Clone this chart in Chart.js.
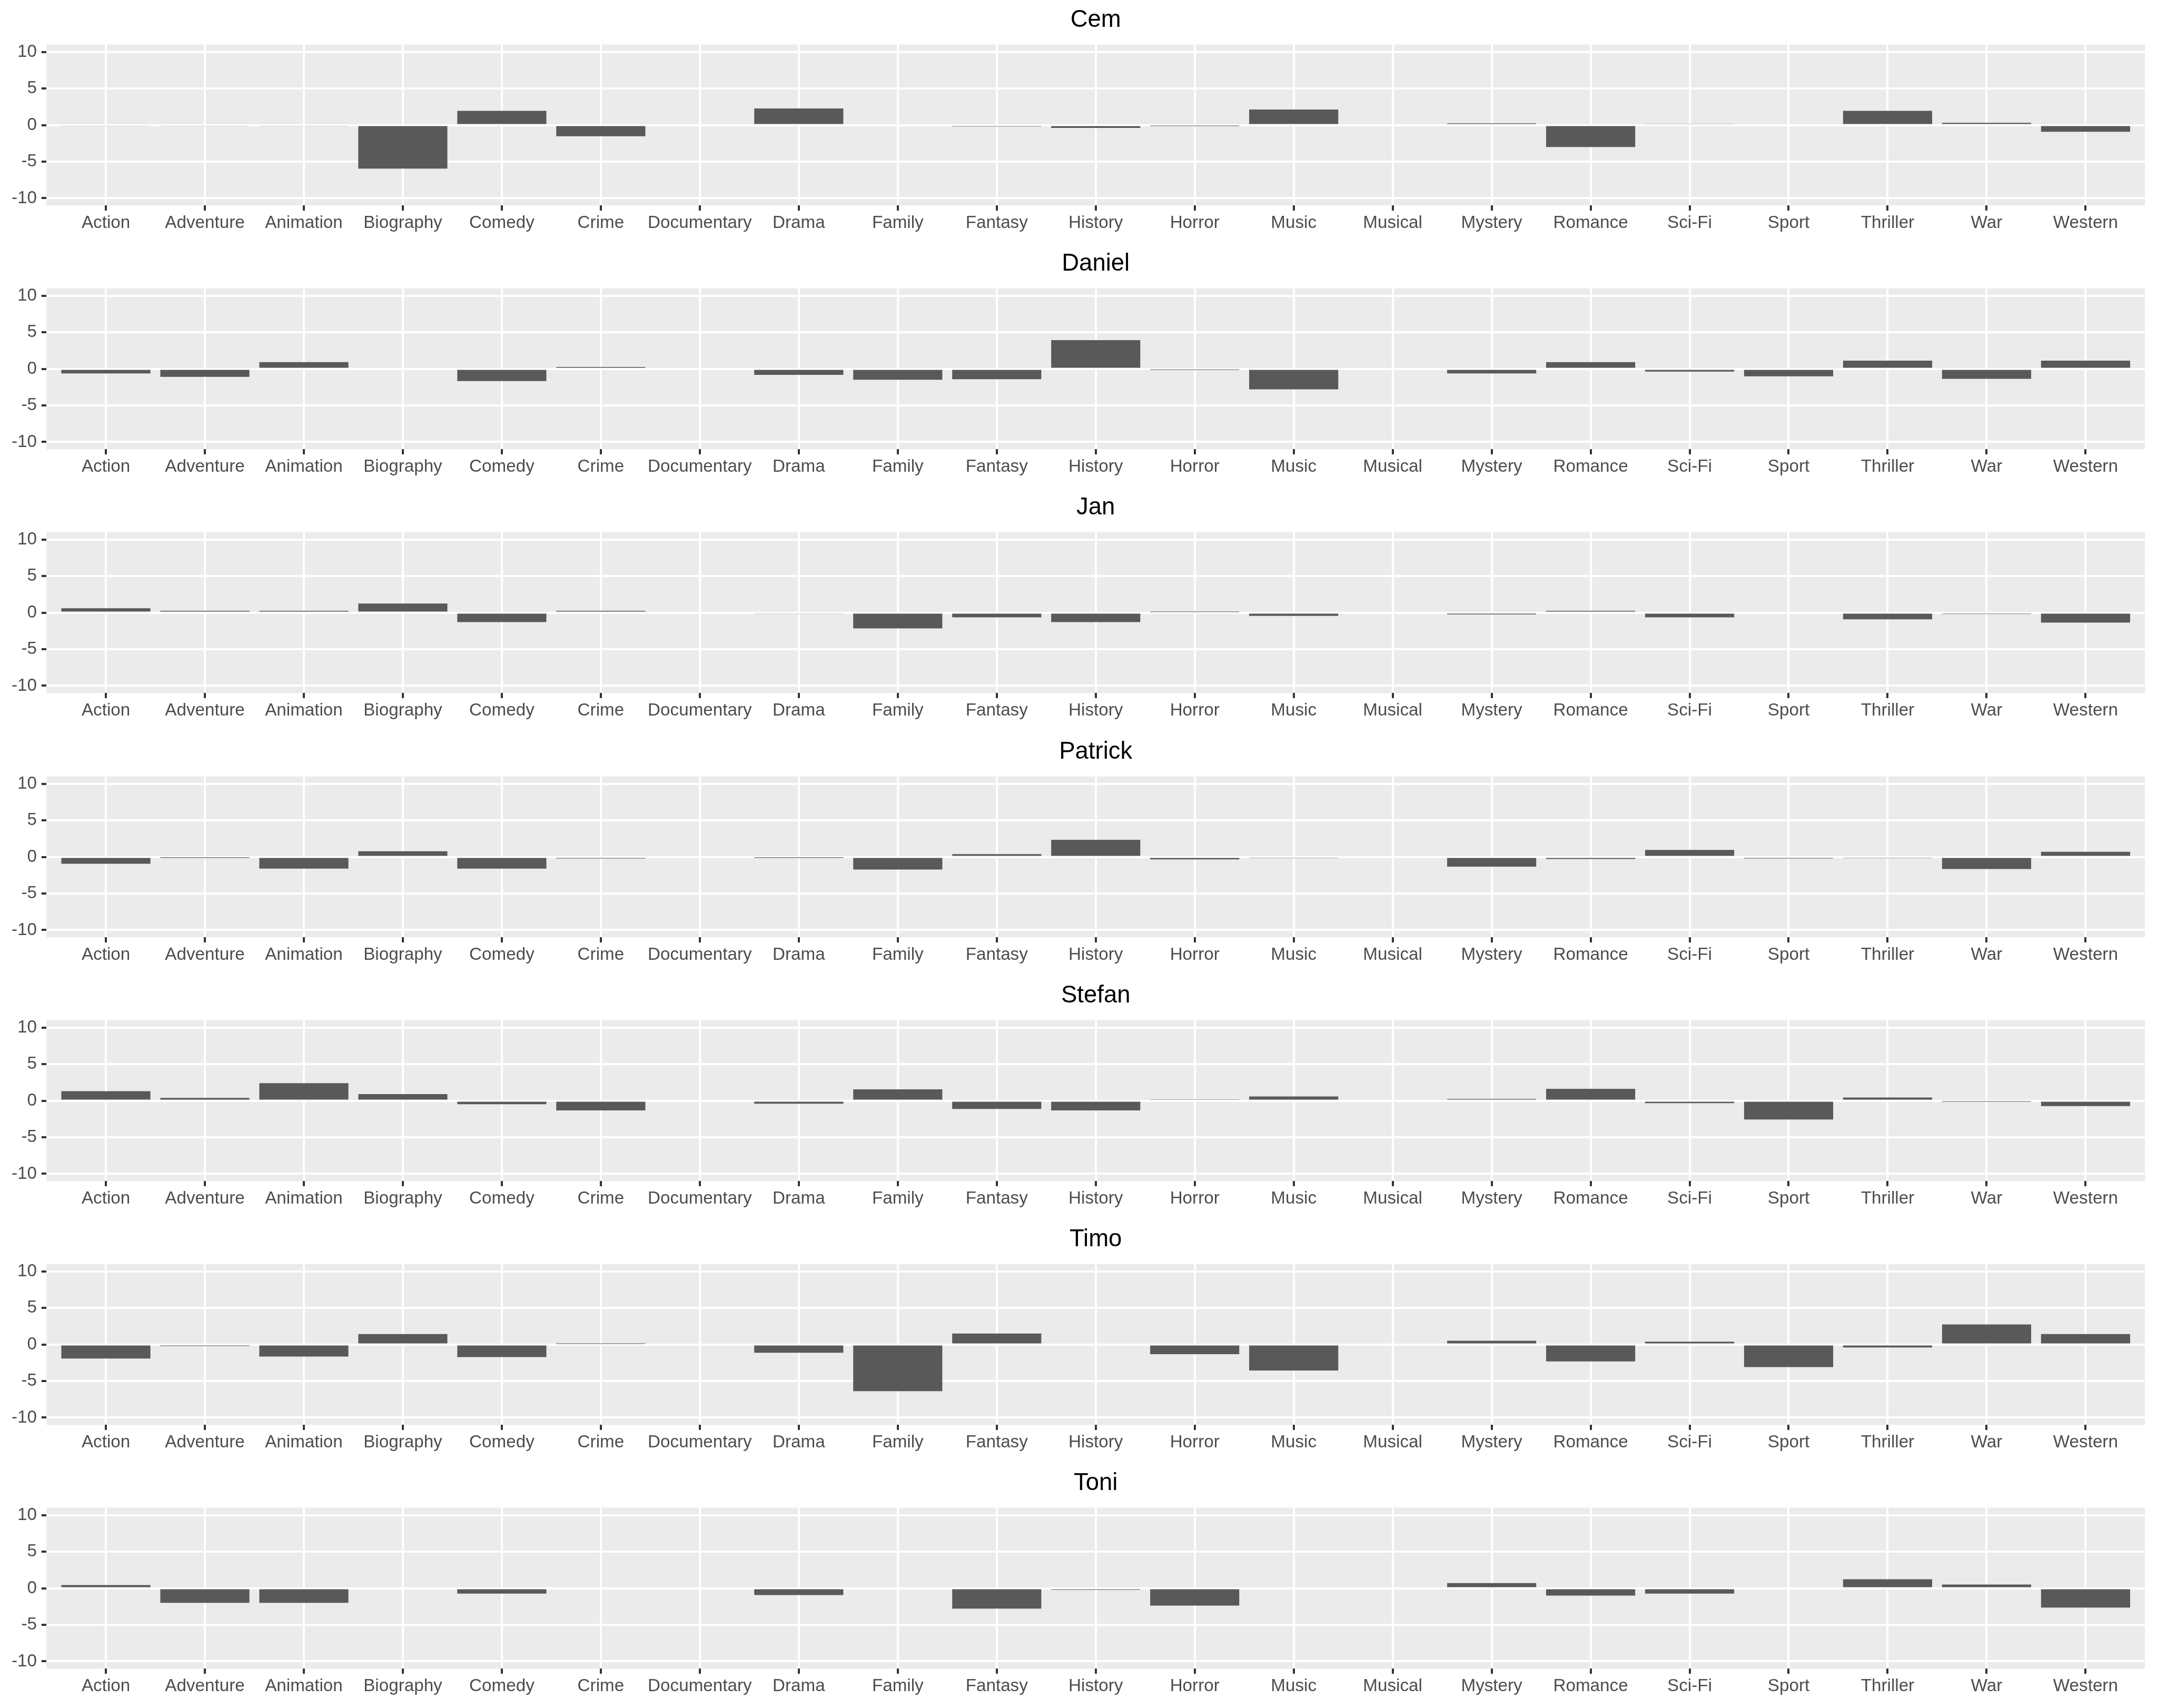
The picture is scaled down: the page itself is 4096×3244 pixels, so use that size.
<!DOCTYPE html>
<html>
<head>
<meta charset="utf-8">
<script src="https://cdn.jsdelivr.net/npm/chart.js@4.4.1/dist/chart.umd.min.js"></script>
<style>
  html, body { margin: 0; padding: 0; background: #ffffff; overflow: hidden; }
  #wrap { position: relative; width: 4096px; height: 3244px; }
  .panel { position: absolute; left: 0; width: 4096px; }
</style>
</head>
<body>
<div id="wrap"></div>
<script>
// ---- data ----
const categories = ["Action","Adventure","Animation","Biography","Comedy","Crime","Documentary","Drama","Family","Fantasy","History","Horror","Music","Musical","Mystery","Romance","Sci-Fi","Sport","Thriller","War","Western"];
const people = ["Cem","Daniel","Jan","Patrick","Stefan","Timo","Toni"];
const yTicks = [-10, -7.5, -5, -2.5, 0, 2.5, 5, 7.5, 10];

const cem     = [-0.13, -0.13, -0.13, -5.95, 1.94, -1.53, null, 2.27, null, -0.2, -0.39, -0.07, 2.13, null, 0.24, -3.0, 0.17, null, 1.94, 0.3, -0.92];
const daniel  = [-0.63, -1.09, 0.92, null, -1.68, 0.26, null, -0.83, -1.49, -1.42, 3.93, -0.07, -2.8, null, -0.63, 0.92, -0.37, -1.03, 1.11, -1.36, 1.11];
const jan     = [0.59, 0.26, 0.26, 1.25, -1.30, 0.26, null, -0.12, -2.15, -0.64, -1.30, 0.07, -0.45, null, -0.25, 0.26, -0.64, null, -0.91, -0.19, -1.37];
const patrick = [-0.94, -0.05, -1.60, 0.77, -1.60, -0.22, null, -0.05, -1.73, 0.37, 2.34, -0.35, -0.10, null, -1.33, -0.28, 0.96, -0.22, -0.10, -1.66, 0.70];
const stefan  = [1.29, 0.37, 2.40, 0.90, -0.48, -1.33, null, -0.42, 1.55, -1.14, -1.33, 0.11, 0.57, null, 0.24, 1.62, -0.35, -2.58, 0.44, -0.07, -0.74];
const timo    = [-1.92, -0.22, -1.66, 1.42, -1.73, 0.07, null, -1.14, -6.38, 1.49, null, -1.33, -3.56, null, 0.50, -2.32, 0.37, -3.10, -0.42, 2.73, 1.42];
const toni    = [0.44, -1.99, -1.99, null, -0.74, null, null, -0.94, null, -2.78, -0.22, -2.38, null, null, 0.70, -1.01, -0.74, null, 1.22, 0.50, -2.64];
const seriesList = [cem, daniel, jan, patrick, stefan, timo, toni];

// ---- layout (already scaled 0.91) ----
const S = 0.91;
const STRIDE = 509 * S;
const PANEL_TOP = 93 * S;
const PANEL_BOTTOM = 429 * S;
const PANEL_LEFT = 97 * S;
const PANEL_RIGHT = 4476 * S;
const FONT = '"Liberation Sans", Arial, Helvetica, sans-serif';
const AXIS_FS = 36.5 * S;
const TITLE_FS = 50 * S;
const TICK_LEN = 10.5 * S;
const MAJOR_W = 4.4 * S;
const MINOR_W = 2.2 * S;

const bgPlugin = {
  id: 'panelBg',
  beforeDraw(chart) {
    const a = chart.chartArea, ctx = chart.ctx;
    ctx.save();
    ctx.fillStyle = '#EBEBEB';
    ctx.fillRect(a.left, a.top, a.right - a.left, a.bottom - a.top);
    ctx.restore();
  }
};

const wrap = document.getElementById('wrap');
people.forEach((name, i) => {
  const top = Math.round(i * STRIDE);
  const H = Math.round((i + 1) * STRIDE) - top;
  const div = document.createElement('div');
  div.className = 'panel';
  div.style.top = top + 'px';
  div.style.height = H + 'px';
  const cv = document.createElement('canvas');
  div.appendChild(cv);
  wrap.appendChild(div);

  const vals = seriesList[i];
  const titleLine = TITLE_FS * 1.2;
  const titleCenter = 41.8 * S;
  const padTop = titleCenter - titleLine / 2;
  const padBottom = PANEL_TOP - padTop - titleLine;
  const labelLine = AXIS_FS * 1.2;
  const labelCenter = 465.3 * S;
  const xPad = labelCenter - PANEL_BOTTOM - TICK_LEN - labelLine / 2;

  new Chart(cv, {
    type: 'bar',
    data: {
      datasets: [{
        data: categories.map((c, k) => ({ x: k, y: vals[k] })),
        backgroundColor: '#595959',
        borderWidth: 0,
        barPercentage: 0.9,
        categoryPercentage: 1.0
      }]
    },
    options: {
      responsive: true,
      maintainAspectRatio: false,
      animation: false,
      devicePixelRatio: 1,
      layout: { padding: { left: 0, right: 4096 - PANEL_RIGHT, top: 0, bottom: 0 } },
      plugins: {
        legend: { display: false },
        tooltip: { enabled: false },
        title: {
          display: true,
          text: name,
          fullSize: false,
          align: 'center',
          color: '#000000',
          font: { family: FONT, size: TITLE_FS, weight: 'normal', lineHeight: 1.2 },
          padding: { top: padTop, bottom: padBottom }
        }
      },
      scales: {
        x: {
          type: 'linear',
          offset: false,
          min: -0.6,
          max: 20.6,
          afterBuildTicks: (s) => { s.ticks = categories.map((c, k) => ({ value: k })); },
          afterFit: (s) => { s.height = H - PANEL_BOTTOM; },
          ticks: {
            autoSkip: false,
            maxRotation: 0,
            minRotation: 0,
            padding: xPad,
            color: '#4D4D4D',
            font: { family: FONT, size: AXIS_FS, lineHeight: 1.2 },
            callback: (v) => categories[v]
          },
          grid: {
            offset: false,
            color: '#FFFFFF',
            lineWidth: MAJOR_W,
            tickColor: '#333333',
            tickLength: TICK_LEN,
            tickWidth: MAJOR_W
          },
          border: { display: false }
        },
        y: {
          type: 'linear',
          min: -11,
          max: 11,
          afterBuildTicks: (s) => { s.ticks = yTicks.map(v => ({ value: v })); },
          afterFit: (s) => { s.width = PANEL_LEFT; },
          ticks: {
            padding: 9.6 * S,
            color: '#4D4D4D',
            font: { family: FONT, size: AXIS_FS, lineHeight: 1.2 },
            callback: (v) => (v % 5 === 0 ? String(v) : '')
          },
          grid: {
            color: '#FFFFFF',
            lineWidth: (ctx) => (ctx.tick && ctx.tick.value % 5 === 0 ? MAJOR_W : MINOR_W),
            tickColor: (ctx) => (ctx.tick && ctx.tick.value % 5 === 0 ? '#333333' : 'rgba(0,0,0,0)'),
            tickLength: TICK_LEN,
            tickWidth: MAJOR_W
          },
          border: { display: false }
        }
      }
    },
    plugins: [bgPlugin]
  });
});
</script>
</body>
</html>
